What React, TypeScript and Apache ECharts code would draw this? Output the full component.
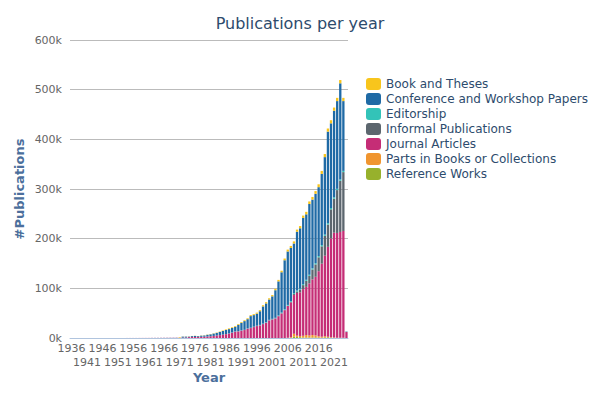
import React, { useEffect, useRef } from "react";
import * as echarts from "echarts";

const years: string[] = [];
for (let y = 1936; y <= 2025; y++) years.push(String(y));

// 1936-1970 (35 values) then 1971-2025 (55 values)
const journal = [
  0, 0, 0, 0, 0, 0, 0, 0, 0, 0, 10, 10, 20, 20, 30, 40, 50, 60, 70, 80,
  100, 110, 130, 150, 170, 190, 210, 240, 260, 290, 320, 350, 380, 410, 450,
  300, 800, 1000, 1800, 2000, 2000, 2000, 2400, 2600, 3000,
  3500, 4200, 5000, 5800, 6800, 7800, 9000, 10700, 12800, 13500,
  14800, 16000, 18800, 20000, 22000, 24000, 25500, 28000, 31000, 35600,
  37600, 39600, 44000, 49600, 56000, 64000, 70000, 78000, 86000, 88000,
  94000, 97000, 105000, 112000, 118000, 131000, 147000, 162000, 181000, 199000,
  211000, 211000, 213000, 215000, 12000,
];
const conference = [
  0, 0, 0, 0, 0, 0, 0, 0, 0, 0, 0, 0, 0, 0, 0, 0, 0, 0, 0, 0,
  10, 20, 30, 40, 50, 60, 80, 100, 120, 140, 160, 180, 200, 220, 250,
  0, 2000, 1800, 1000, 1800, 2200, 1700, 2300, 2500, 3500,
  4000, 4700, 5300, 6400, 7300, 8000, 8600, 9000, 9400, 12500,
  15200, 17500, 18500, 23400, 23300, 24100, 27500, 34700, 37600, 40900,
  45300, 55500, 68700, 81100, 98700, 107600, 106900, 100000, 118300, 121800,
  133200, 131800, 142500, 138300, 139600, 138800, 143300, 156000, 184300, 170400,
  174300, 176600, 193500, 140500, 800,
];
const books = [
  0, 0, 0, 0, 0, 0, 0, 0, 0, 0, 0, 0, 0, 0, 0, 0, 0, 0, 0, 0,
  0, 0, 0, 0, 0, 0, 0, 0, 0, 0, 10, 10, 20, 20, 30,
  1200, 200, 200, 300, 300, 300, 300, 400, 400, 500,
  500, 600, 700, 800, 1000, 1200, 1400, 1500, 1500, 1600,
  1600, 1700, 1800, 2000, 2000, 2200, 2200, 2400, 2500, 2500,
  2600, 2800, 3000, 3200, 3500, 3800, 4000, 4200, 4400, 4500,
  4700, 5000, 5200, 5400, 5600, 5800, 6000, 6200, 6300, 6300,
  6500, 6500, 6600, 6500, 100,
];
const editorship = [
  0, 0, 0, 0, 0, 0, 0, 0, 0, 0, 0, 0, 0, 0, 0, 0, 0, 0, 0, 0,
  0, 0, 0, 0, 0, 0, 0, 0, 0, 0, 0, 0, 0, 0, 0,
  0, 0, 0, 0, 0, 0, 0, 0, 0, 0,
  0, 0, 0, 0, 0, 300, 300, 400, 400, 500,
  500, 500, 600, 700, 800, 800, 900, 900, 1000, 1000,
  1000, 1100, 1300, 1400, 1500, 1600, 1700, 1800, 1900, 2000,
  2100, 2200, 2300, 2300, 2400, 2400, 2500, 2600, 2700, 2800,
  2700, 2600, 2800, 2500, 0,
];
const informal = [
  0, 0, 0, 0, 0, 0, 0, 0, 0, 0, 0, 0, 0, 0, 0, 0, 0, 0, 0, 0,
  0, 0, 0, 0, 0, 0, 0, 0, 0, 0, 0, 0, 0, 0, 0,
  0, 0, 0, 0, 0, 0, 0, 0, 0, 0,
  0, 0, 0, 0, 0, 0, 0, 0, 0, 0,
  0, 0, 0, 0, 0, 0, 0, 0, 0, 0,
  0, 0, 0, 200, 300, 500, 1000, 2000, 3000, 5000,
  8000, 12000, 15000, 20000, 25000, 28000, 35000, 40000, 45000, 58500,
  68500, 86300, 103000, 118500, 100,
];
const parts = [
  0, 0, 0, 0, 0, 0, 0, 0, 0, 0, 0, 0, 0, 0, 0, 0, 0, 0, 0, 0,
  0, 0, 0, 0, 0, 0, 0, 0, 0, 0, 0, 0, 0, 0, 0,
  0, 0, 0, 0, 0, 0, 0, 0, 0, 0,
  0, 0, 0, 0, 0, 0, 0, 0, 0, 0,
  0, 0, 0, 0, 0, 0, 0, 0, 0, 0,
  0, 0, 0, 0, 0, 500, 1500, 6000, 2500, 2500,
  3500, 5000, 4000, 5000, 4000, 2500, 2000, 2500, 1000, 1000,
  1000, 500, 500, 500, 0,
];
const reference = [
  0, 0, 0, 0, 0, 0, 0, 0, 0, 0, 0, 0, 0, 0, 0, 0, 0, 0, 0, 0,
  0, 0, 0, 0, 0, 0, 0, 0, 0, 0, 0, 0, 0, 0, 0,
  0, 0, 0, 0, 0, 0, 0, 0, 0, 0,
  0, 0, 0, 0, 0, 0, 0, 0, 0, 0,
  0, 0, 0, 0, 0, 0, 0, 0, 0, 0,
  0, 0, 0, 0, 0, 0, 200, 2500, 2200, 1600,
  1000, 1000, 1000, 1000, 1200, 1000, 600, 1100, 1500, 500,
  0, 0, 0, 0, 0,
];

const legendOrder = [
  "Book and Theses",
  "Conference and Workshop Papers",
  "Editorship",
  "Informal Publications",
  "Journal Articles",
  "Parts in Books or Collections",
  "Reference Works",
];

const stackSeries: { name: string; data: number[]; color: string }[] = [
  { name: "Reference Works", data: reference, color: "#97b12c" },
  { name: "Parts in Books or Collections", data: parts, color: "#f0952f" },
  { name: "Journal Articles", data: journal, color: "#c52d76" },
  { name: "Informal Publications", data: informal, color: "#5c666e" },
  { name: "Editorship", data: editorship, color: "#33c3b8" },
  { name: "Conference and Workshop Papers", data: conference, color: "#1f6aa5" },
  { name: "Book and Theses", data: books, color: "#f8c51c" },
];

const FONT = "DejaVu Sans";

const labelBase = {
  fontFamily: FONT,
  fontSize: 11,
  color: "#666",
  lineHeight: 14,
};

export default function App() {
  const ref = useRef<HTMLDivElement>(null);
  useEffect(() => {
    if (!ref.current) return;
    const chart = echarts.init(ref.current, undefined, { renderer: "svg" });
    chart.setOption({
      animation: false,
      textStyle: { fontFamily: FONT },
      title: {
        text: "Publications per year",
        left: "center",
        top: 10,
        textStyle: { fontFamily: FONT, fontSize: 16, fontWeight: "normal", color: "#2d4b6d" },
      },
      legend: {
        data: legendOrder,
        orient: "vertical",
        left: 366,
        top: 78,
        padding: 0,
        itemWidth: 15,
        itemHeight: 12,
        itemGap: 3,
        icon: "roundRect",
        textStyle: { fontFamily: FONT, fontSize: 12, color: "#2d4b6d" },
      },
      grid: { left: 70, right: 252, top: 40, bottom: 62 },
      xAxis: [
        {
          type: "category",
          data: years,
          name: "Year",
          nameLocation: "middle",
          nameGap: 33,
          nameTextStyle: { fontFamily: FONT, fontSize: 13, fontWeight: "bold", color: "#4c6f9c" },
          axisLine: { lineStyle: { color: "#b0c4de" } },
          axisTick: { interval: 0, length: 5, lineStyle: { color: "#b0c4de" } },
          axisLabel: {
            ...labelBase,
            interval: (i: number) => i % 10 === 0,
            margin: 3,
          },
        },
        {
          type: "category",
          data: years,
          position: "bottom",
          offset: 14,
          axisLine: { show: false },
          axisTick: { show: false },
          splitLine: { show: false },
          axisLabel: {
            ...labelBase,
            interval: (i: number) => i % 10 === 5,
            margin: 3,
          },
        },
      ],
      yAxis: {
        type: "value",
        min: 0,
        max: 600000,
        interval: 100000,
        name: "#Publications",
        nameLocation: "middle",
        nameGap: 44,
        nameTextStyle: { fontFamily: FONT, fontSize: 13, fontWeight: "bold", color: "#4c6f9c" },
        axisLine: { show: false },
        axisTick: { show: false },
        axisLabel: {
          fontFamily: FONT,
          fontSize: 11,
          color: "#666",
          margin: 8,
          formatter: (v: number) => v / 1000 + "k",
        },
        splitLine: { lineStyle: { color: "#bbbbbb" } },
      },
      series: stackSeries.map((s) => ({
        name: s.name,
        type: "bar",
        stack: "total",
        xAxisIndex: 0,
        data: s.data,
        barCategoryGap: "25%",
        itemStyle: { color: s.color },
      })),
    });
    return () => chart.dispose();
  }, []);
  return (
    <div
      ref={ref}
      style={{ position: "absolute", left: 0, top: 0, width: 600, height: 400 }}
    />
  );
}
